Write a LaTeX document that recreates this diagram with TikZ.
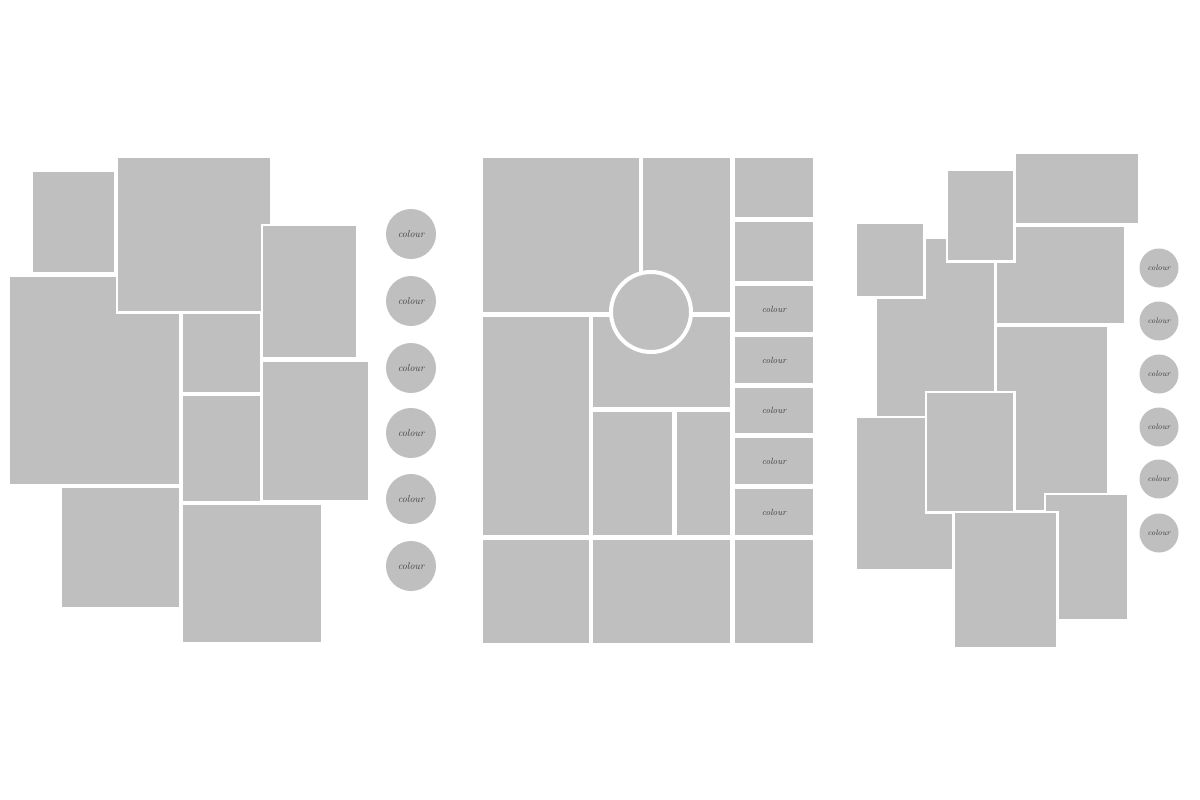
\documentclass[tikz,border=0pt]{standalone}
\definecolor{tilegray}{HTML}{BFBFBF}
\definecolor{inkgray}{HTML}{404040}
\begin{document}
\begin{tikzpicture}[x=1pt,y=-1pt,
  tile/.style={fill=tilegray,preaction={draw=white,line width=5pt}},
  swatch/.style={circle,fill=tilegray,minimum size=#1,inner sep=0pt,text=inkgray,font=\fontsize{10}{10}\selectfont\itshape},
  swatch/.default=50pt,
  word/.style={text=inkgray,font=\fontsize{9}{9}\selectfont\itshape}]
\useasboundingbox[fill=white] (0,0) rectangle (1200,800);
% left board
\fill[tile] (10,277) rectangle (179,484);
\fill[tile] (33,172) rectangle (114,272);
\fill[tile] (118,158) rectangle (270,311);
\fill[tile] (263,226) rectangle (356,357);
\fill[tile] (183,314) rectangle (260,392);
\fill[tile] (183,396) rectangle (260,501);
\fill[tile] (263,362) rectangle (368,500);
\fill[tile] (62,488) rectangle (179,607);
\fill[tile] (183,505) rectangle (321,642);
\foreach \y [count=\i] in {234,301,368,433,499,566}
  \node[swatch] (lc\i) at (411,\y) {colour};
% middle board
\fill[tile] (483,158) rectangle (639,312);
\fill[tile] (643,158) rectangle (730,312);
\fill[tile] (483,317) rectangle (589,535);
\fill[tile] (593,317) rectangle (730,407);
\fill[tile] (593,412) rectangle (672,535);
\fill[tile] (677,412) rectangle (730,535);
\fill[tile] (483,540) rectangle (589,643);
\fill[tile] (593,540) rectangle (730,643);
\fill[tile] (735,540) rectangle (813,643);
\fill[tile] (735,158) rectangle (813,217);
\fill[tile] (735,222) rectangle (813,281);
\foreach \t/\b [count=\i] in {286/332,337/383,388/433,438/484,489/535}{
  \fill[tile] (735,\t) rectangle (813,\b);
  \node[word] (mc\i) at (774,{(\t+\b)/2}) {colour};
}
\filldraw[fill=tilegray,draw=white,line width=4pt] (651,312) circle (40);
% right board
\fill[tile] (877,239) rectangle (994,416);
\fill[tile] (857,224) rectangle (923,296);
\fill[tile] (997,227) rectangle (1124,323);
\fill[tile] (948,171) rectangle (1013,260);
\fill[tile] (1016,154) rectangle (1138,223);
\fill[tile] (997,327) rectangle (1107,510);
\fill[tile] (857,418) rectangle (952,569);
\fill[tile] (927,393) rectangle (1013,511);
\fill[tile] (1046,495) rectangle (1127,619);
\fill[tile] (955,513) rectangle (1056,647);
\foreach \y [count=\i] in {268,321,374,427,479,533}
  \node[swatch=39pt,font=\fontsize{8}{8}\selectfont\itshape] (rc\i) at (1159,\y) {colour};
\end{tikzpicture}
\end{document}
